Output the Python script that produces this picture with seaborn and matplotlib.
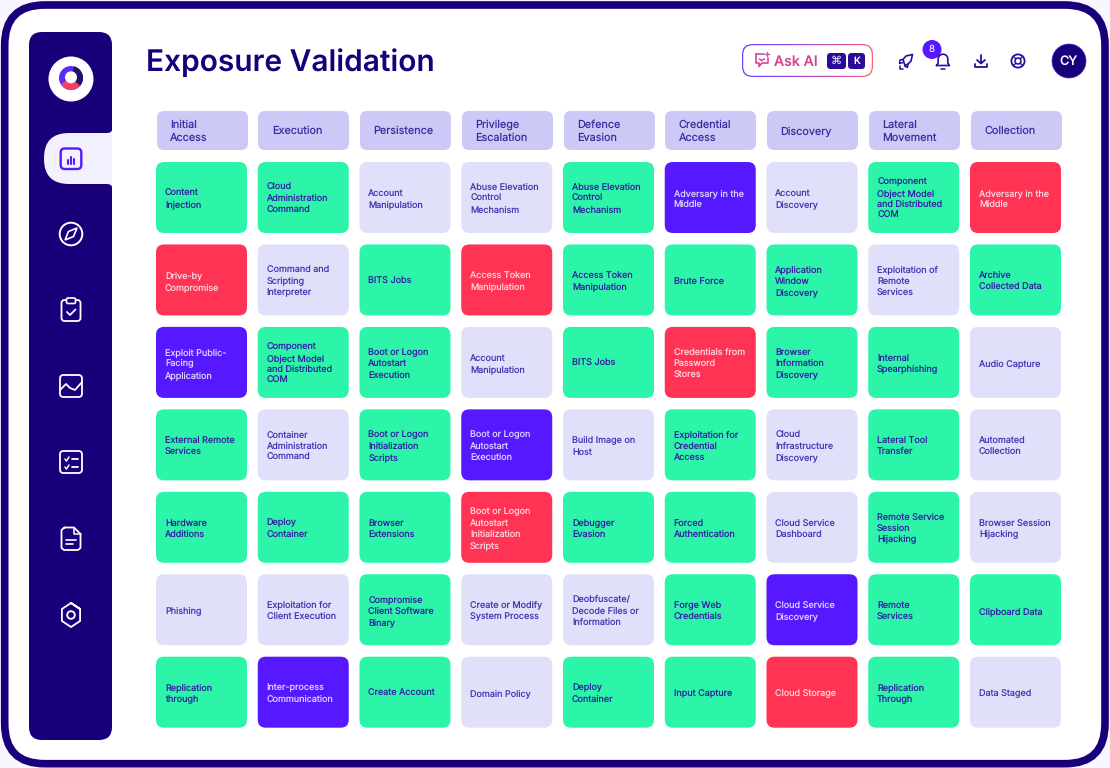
import numpy as np
import pandas as pd
import seaborn as sns
import matplotlib.pyplot as plt
from matplotlib.markers import MarkerStyle
from matplotlib.patches import BoxStyle, Circle, FancyBboxPatch, PathPatch, Polygon, Wedge
from matplotlib.path import Path

sns.set_theme(style="white")
plt.rcParams["font.family"] = ["Inter", "DejaVu Sans"]
plt.rcParams["text.hinting"] = "no_hinting"

tactics = ["Initial\nAccess", "Execution", "Persistence", "Privilege\nEscalation", "Defence\nEvasion",
           "Credential\nAccess", "Discovery", "Lateral\nMovement", "Collection"]

initial_access = ["Content\nInjection", "Drive-by\nCompromise", "Exploit Public-\nFacing\nApplication",
                  "External Remote\nServices", "Hardware\nAdditions", "Phishing", "Replication\nthrough"]
execution = ["Cloud\nAdministration\nCommand", "Command and\nScripting\nInterpreter",
             "Component\nObject Model\nand Distributed\nCOM", "Container\nAdministration\nCommand",
             "Deploy\nContainer", "Exploitation for\nClient Execution", "Inter-process\nCommunication"]
persistence = ["Account\nManipulation", "BITS Jobs", "Boot or Logon\nAutostart\nExecution",
               "Boot or Logon\nInitialization\nScripts", "Browser\nExtensions",
               "Compromise\nClient Software\nBinary", "Create Account"]
privilege = ["Abuse Elevation\nControl\nMechanism", "Access Token\nManipulation", "Account\nManipulation",
             "Boot or Logon\nAutostart\nExecution", "Boot or Logon\nAutostart\nInitialization\nScripts",
             "Create or Modify\nSystem Process", "Domain Policy"]
defence = ["Abuse Elevation\nControl\nMechanism", "Access Token\nManipulation", "BITS Jobs",
           "Build Image on\nHost", "Debugger\nEvasion", "Deobfuscate/\nDecode Files or\nInformation",
           "Deploy\nContainer"]
credential = ["Adversary in the\nMiddle", "Brute Force", "Credentials from\nPassword\nStores",
              "Exploitation for\nCredential\nAccess", "Forced\nAuthentication", "Forge Web\nCredentials",
              "Input Capture"]
discovery = ["Account\nDiscovery", "Application\nWindow\nDiscovery", "Browser\nInformation\nDiscovery",
             "Cloud\nInfrastructure\nDiscovery", "Cloud Service\nDashboard", "Cloud Service\nDiscovery",
             "Cloud Storage"]
lateral = ["Component\nObject Model\nand Distributed\nCOM", "Exploitation of\nRemote\nServices",
           "Internal\nSpearphishing", "Lateral Tool\nTransfer", "Remote Service\nSession\nHijacking",
           "Remote\nServices", "Replication\nThrough"]
collection = ["Adversary in the\nMiddle", "Archive\nCollected Data", "Audio Capture", "Automated\nCollection",
              "Browser Session\nHijacking", "Clipboard Data", "Data Staged"]
techniques = [initial_access, execution, persistence, privilege, defence, credential, discovery, lateral, collection]

# one letter per tactic, one string per row
# g = validated, l = not tested, p = in progress, r = exposed
status = ["ggllgplgr",
          "rlgrggglg",
          "pgglgrggl",
          "glgplglgl",
          "gggrgglgl",
          "llgllgpgg",
          "gpglggrgl"]

palette = {"g": "#2CF5A9", "l": "#E1E0FB", "p": "#5518FF", "r": "#FF3353"}
text_colors = {"g": "#3120A4", "l": "#4636B0", "p": "#DCD2FF", "r": "#FFD3DE"}
NAVY = "#19007A"
ICON = "#26109A"

# long table for the grid
rows = []
for c, name in enumerate(tactics):
    for r in range(7):
        rows.append({"tactic": name, "row": r, "status": status[r][c], "label": techniques[c][r]})
cells = pd.DataFrame(rows).sort_values(["row"], kind="stable")
cells["col"] = cells["tactic"].map(tactics.index)
heads = pd.DataFrame({"tactic": tactics, "row": -0.813})

fig = plt.figure(figsize=(11.10, 7.68), dpi=100, facecolor="#F8F7FF")

# chrome is drawn in pixel coordinates
bg = fig.add_axes([0, 0, 1, 1])
bg.set_xlim(0, 1110)
bg.set_ylim(768, 0)
bg.axis("off")


def rbox(x0, y0, x1, y1, r, fc="none", ec="none", lw=0, z=2, ax=bg):
    p = FancyBboxPatch((x0, y0), x1 - x0, y1 - y0, boxstyle=f"round,pad=0,rounding_size={r}",
                       fc=fc, ec=ec, lw=lw, zorder=z)
    ax.add_patch(p)
    return p


def line(xs, ys, c="white", lw=1.4, z=5):
    bg.plot(xs, ys, color=c, lw=lw, solid_capstyle="round", solid_joinstyle="round", zorder=z)


# frame and sidebar
rbox(4.7, 5, 1105, 763.7, 40, fc="white", ec=NAVY, lw=5.5, z=1)
rbox(29, 32, 112, 740, 13, fc=NAVY)
rbox(44, 133, 150, 184, 25, fc="#F3F1FD", z=3)
bg.add_patch(Polygon([(112, 120), (150, 120), (150, 200), (112, 200)], fc="white", lw=0, zorder=4))
for ya, yb in [(128, 133), (189, 184)]:
    bg.add_patch(PathPatch(Path([(112.5, ya), (112.5, yb), (107, yb), (112.5, yb), (112.5, ya)],
                                [Path.MOVETO, Path.CURVE3, Path.CURVE3, Path.LINETO, Path.CLOSEPOLY]),
                           fc="white", lw=0, zorder=4))

# logo
bg.add_patch(Circle((71, 79), 22.5, fc="white", lw=0, zorder=3))
bg.add_patch(Wedge((71, 78), 12, 0, 360, fc="#5A2DF5", lw=0, zorder=4))
bg.add_patch(Wedge((71, 78), 12, -75, 45, fc="#1F1466", lw=0, zorder=4))
bg.add_patch(Wedge((71, 78), 12, 40, 150, fc="#F0406A", lw=0, zorder=4))
bg.add_patch(Circle((71, 77.3), 6, fc="white", lw=0, zorder=5))

# sidebar icons
cx = 71
rbox(cx - 10.3, 148.5, cx + 10.3, 169, 4, ec="#5518FF", lw=1.7, z=5)
for dx, top in [(-3.4, 160), (0, 156.5), (3.4, 158.5)]:
    line([cx + dx, cx + dx], [top, 164], c="#5518FF", lw=1.5)

bg.add_patch(Circle((cx, 234), 11.3, fc="none", ec="white", lw=1.4, zorder=5))
bg.add_patch(Polygon([(cx + 6, 228), (cx + 2.5, 236.5), (cx - 6, 240), (cx - 2.5, 231.5)], fc="none", ec="white", lw=1.2, zorder=5))

rbox(cx - 9.5, 300, cx + 9.5, 321, 3, ec="white", lw=1.3, z=5)
rbox(cx - 4.5, 298, cx + 4.5, 303.5, 1.5, fc=NAVY, ec="white", lw=1.2, z=6)
line([cx - 4, cx - 1, cx + 4.5], [312, 315, 309.5], lw=1.3)

rbox(cx - 11, 375, cx + 11, 397, 3.5, ec="white", lw=1.3, z=5)
line([cx - 11, cx - 5, cx - 1, cx + 4, cx + 11], [390, 384, 388, 390, 382], lw=1.3)

rbox(cx - 11, 451, cx + 11, 473, 3.5, ec="white", lw=1.3, z=5)
line([cx - 6, cx - 4.5, cx - 2], [459, 461, 457], lw=1.1)
line([cx - 6, cx - 4.5, cx - 2], [467, 469, 465], lw=1.1)
line([cx + 1, cx + 7], [459, 459], lw=1.3)
line([cx + 1, cx + 7], [467, 467], lw=1.3)

line([cx - 6.5, cx + 3, cx + 9.5, cx + 9.5, cx + 7, cx - 7, cx - 9.5, cx - 9.5, cx - 6.5],
     [527.5, 527.5, 534, 548, 550, 550, 548, 530, 527.5], lw=1.3)
line([cx + 3, cx + 3, cx + 9.5], [527.5, 534, 534], lw=1.1)
line([cx - 5, cx + 5], [539.5, 539.5], lw=1.2)
line([cx - 5, cx + 2], [544, 544], lw=1.2)

hex_t = np.radians(np.arange(-90, 331, 60))
line(cx + 10.5 * np.cos(hex_t), 615 + 12 * np.sin(hex_t), lw=1.3)
bg.add_patch(Circle((cx, 615), 3.8, fc="none", ec="white", lw=1.3, zorder=5))

# title and toolbar
bg.text(146, 63, "Exposure Validation", fontsize=21.5, fontweight="semibold", color=NAVY, va="center", ha="left", zorder=5)

btn = rbox(742, 44, 873, 77, 10.5, fc="white", ec="none", z=2)
grad = np.linspace(0, 1, 256).reshape(1, -1)
cmap = sns.blend_palette(["#6B3CFF", "#A84BD8", "#FF5C78"], as_cmap=True)
im = bg.imshow(grad, extent=(742, 873, 77, 44), cmap=cmap, aspect="auto", zorder=2)
im.set_clip_path(btn)
rbox(743.2, 45.2, 871.8, 75.8, 9.5, fc="white", z=3)
bg.set_xlim(0, 1110)
bg.set_ylim(768, 0)
bg.text(774, 61.5, "Ask AI", fontsize=10.3, fontweight="medium", color="#D5438F", va="center", ha="left", zorder=5)
rbox(827, 53, 846, 69, 3.5, fc="#2A0A99", z=5)
rbox(848, 53, 865, 69, 3.5, fc="#2A0A99", z=5)
bg.text(836.5, 61, "\u2318", fontsize=8, color="white", ha="center", va="center", family=["DejaVu Sans"], zorder=6)
bg.text(856.5, 61, "K", fontsize=7, fontweight="medium", color="white", ha="center", va="center", zorder=6)

# ask icon
line([756, 764, 764], [54, 54, 54], c="#C84AC0", lw=1.2)
line([756, 756, 759, 759, 762, 768, 768], [54, 63, 63, 66.5, 63, 63, 58], c="#D8479A", lw=1.2)
line([759.5, 761.5, 764.5], [59, 60.5, 59], c="#D5438F", lw=1.1)
line([767, 767], [51.5, 56], c="#C84AC0", lw=1)
line([764.8, 769.2], [53.8, 53.8], c="#C84AC0", lw=1)

# rocket
line([903, 906, 912.5, 911, 908, 905, 903], [59.5, 56, 54.5, 61, 64, 65.5, 59.5], c=ICON, lw=1.2)
line([903, 900, 899.5, 903], [59.5, 60, 63.5, 62.5], c=ICON, lw=1.1)
line([908, 907.5, 904.5], [64, 67.5, 66], c=ICON, lw=1.1)
line([899.5, 899.5, 902.5], [65.5, 69, 69], c=ICON, lw=1.1)

# bell
bt = np.linspace(np.pi, 0, 30)
line(np.r_[936.5, 938.2, 943 + 4.8 * np.cos(bt), 947.8, 949.5, 936.5],
     np.r_[65.5, 63, 59 - 4.8 * np.sin(bt), 63, 65.5, 65.5], c=ICON, lw=1.2)
line([941, 945], [68.7, 68.7], c=ICON, lw=1.1)
bg.add_patch(Circle((932, 49.5), 9.5, fc="#5518FF", lw=0, zorder=6))
bg.text(932, 49.5, "8", fontsize=7, color="#E4DCFF", ha="center", va="center", zorder=7)

# download
line([981, 981], [54.5, 63], c=ICON, lw=1.3)
line([977, 981, 985], [60, 63.5, 60], c=ICON, lw=1.3)
line([975, 975, 987, 987], [64, 67, 67, 64], c=ICON, lw=1.3)

# lifebuoy
bg.add_patch(Circle((1018, 61), 6.6, fc="none", ec=ICON, lw=1.3, zorder=5))
bg.add_patch(Circle((1018, 61), 3, fc="none", ec=ICON, lw=1.1, zorder=5))
for a in np.radians([45, 135, 225, 315]):
    line([1018 + 3 * np.cos(a), 1018 + 6.6 * np.cos(a)], [61 + 3 * np.sin(a), 61 + 6.6 * np.sin(a)], c=ICON, lw=1)

# avatar
bg.add_patch(Circle((1069, 61), 17, fc=NAVY, ec="#4A2CD0", lw=0.5, zorder=5))
bg.text(1069, 61.5, "CY", fontsize=9.2, fontweight="medium", color="white", ha="center", va="center", zorder=6)

# technique grid: one axes whose data units are column and row
X0, PITCH_X, Y0, PITCH_Y = 201.5, 101.75, 197.5, 82.45
left, right, top, bottom = 140, 1080, 100, 745
ax = fig.add_axes([left / 1110, 1 - bottom / 768, (right - left) / 1110, (bottom - top) / 768])
ax.patch.set_alpha(0)


def rounded_marker(w, h, r):
    p = BoxStyle.Round(pad=0, rounding_size=r)(-w / 2, -h / 2, w, h, 1)
    return MarkerStyle(Path(p.vertices, p.codes))


sns.scatterplot(data=cells, x="tactic", y="row", hue="status", hue_order=list(palette), palette=palette,
                marker=rounded_marker(91, 71, 8), s=(91 * 0.72) ** 2, linewidth=0, legend=False, ax=ax)
sns.scatterplot(data=heads, x="tactic", y="row", color="#CCC9F6",
                marker=rounded_marker(91, 39, 7), s=(91 * 0.72) ** 2, linewidth=0, legend=False, ax=ax)
ax.set_xlim((left - X0) / PITCH_X, (right - X0) / PITCH_X)
ax.set_ylim((bottom - Y0) / PITCH_Y, (top - Y0) / PITCH_Y)
ax.set_axis_off()

for _, c in cells.iterrows():
    ax.annotate(c["label"], (c["col"], c["row"]), xytext=(-36.6 * 0.72, -1), textcoords="offset points",
                fontsize=6.5, color=text_colors[c["status"]], ha="left", va="center", linespacing=1.36)
for i, name in enumerate(tactics):
    ax.annotate(name, (i, -0.813), xytext=(-31.5 * 0.72, -0.6), textcoords="offset points",
                fontsize=7.8, color="#3B2BA0", ha="left", va="center", linespacing=1.36)

fig.savefig("out.png", dpi=100, facecolor=fig.get_facecolor())
